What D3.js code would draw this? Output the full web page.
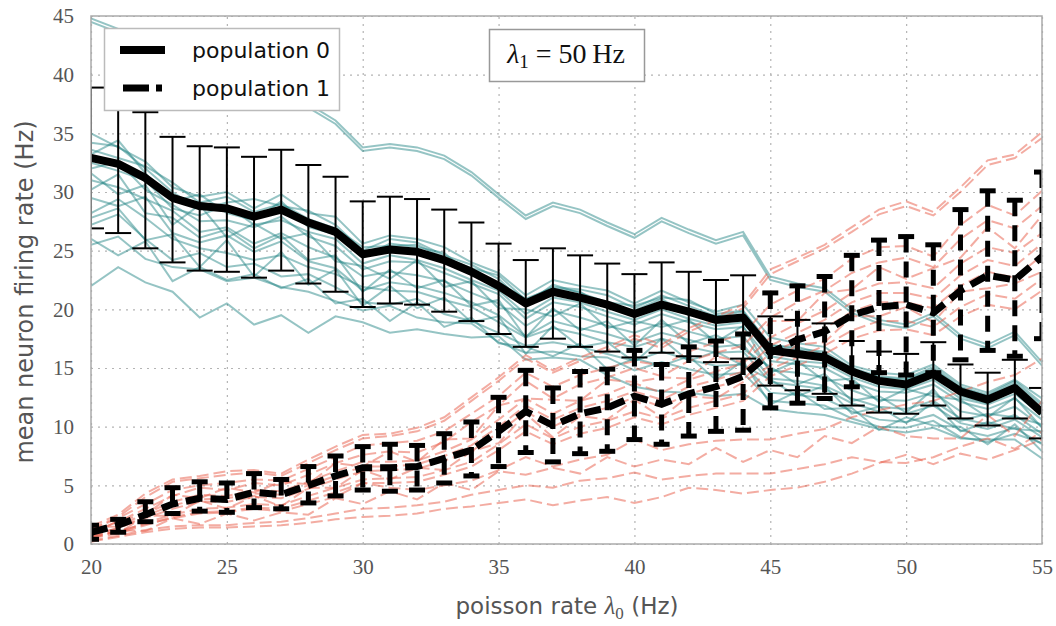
<!DOCTYPE html>
<html>
<head>
<meta charset="utf-8">
<script src="https://cdn.jsdelivr.net/npm/d3@7/dist/d3.min.js"></script>
<style>
  body { margin: 0; background: #fff; }
</style>
</head>
<body>
<div id="chart"></div>
<script>
// poisson rate of population 0 input (Hz)
var rates = [20,21,22,23,24,25,26,27,28,29,30,31,32,33,34,35,36,37,38,39,40,41,42,43,44,45,46,47,48,49,50,51,52,53,54,55];
var xTicks = [20,25,30,35,40,45,50,55];
var yTicks = [0,5,10,15,20,25,30,35,40,45];

// population means and error bar ends
var pop0Mean = [32.9,32.4,31.2,29.5,28.8,28.6,27.9,28.5,27.4,26.6,24.7,25.1,24.9,24.2,23.2,22.0,20.5,21.5,21.0,20.4,19.6,20.4,19.8,19.1,19.3,16.5,16.2,15.9,14.7,13.9,13.6,14.5,13.0,12.3,13.3,11.2];
var pop0Lo   = [26.9,26.5,25.2,24.0,23.3,23.2,22.7,23.3,22.2,21.5,20.2,20.5,20.4,19.8,19.0,17.9,16.8,17.5,16.8,16.4,15.9,16.3,16.0,15.5,15.8,13.5,13.1,12.8,11.8,11.2,11.1,11.8,10.7,10.1,10.7,9.0];
var pop0Hi   = [38.9,38.2,36.8,34.7,33.9,33.8,33.0,33.6,32.3,31.3,29.2,29.6,29.4,28.5,27.4,25.6,24.2,25.2,24.6,23.9,23.0,24.0,23.2,22.5,22.9,19.4,19.1,18.8,17.3,16.4,16.2,17.2,15.3,14.6,15.7,13.3];

var pop1Mean = [1.0,1.6,2.5,3.4,3.9,3.8,4.4,4.2,5.0,5.8,6.5,6.5,6.6,7.3,8.0,9.6,11.3,10.1,11.1,11.6,12.6,11.9,12.8,13.4,14.3,16.3,17.4,18.1,19.5,20.2,20.4,19.7,21.6,22.9,22.5,24.5];
var pop1Lo   = [0.4,1.0,1.9,2.6,2.8,2.7,3.1,3.0,3.5,4.1,4.6,4.5,4.6,5.2,5.8,6.6,7.8,7.0,7.7,7.9,8.9,8.5,9.2,9.6,9.7,11.6,12.0,12.4,13.4,14.6,14.4,14.6,15.7,16.5,16.0,17.5];
var pop1Hi   = [1.6,2.1,3.6,4.8,5.3,5.2,6.0,5.5,6.6,7.5,8.3,8.5,8.4,9.4,10.4,12.5,14.8,13.3,14.7,14.9,16.5,15.3,16.8,17.3,17.9,21.4,22.0,22.8,24.6,25.9,26.2,25.5,28.5,30.1,29.3,31.7];

// single neurons, population 0
var pop0Neurons = [
  [44.8,43.9,42.9,42.0,41.2,40.3,39.5,38.6,37.5,36.1,33.8,34.1,33.8,33.1,31.7,29.8,28.0,29.1,28.5,27.4,26.4,27.8,26.8,25.9,26.6,22.8,22.2,21.8,20.0,19.1,18.7,19.7,17.8,17.0,18.1,15.5],
  [44.5,43.6,42.6,41.7,40.9,40.0,39.2,38.3,37.2,35.8,33.5,33.8,33.5,32.8,31.4,29.5,27.7,28.8,28.2,27.1,26.1,27.5,26.5,25.6,26.3,22.5,21.9,21.5,19.7,18.8,18.4,19.4,17.5,16.7,17.8,15.2],
  [35.0,33.8,32.6,30.4,29.6,30.0,28.6,29.8,28.2,27.9,25.6,26.3,26.0,25.3,24.0,23.1,21.2,22.5,22.0,21.6,20.5,21.6,20.6,19.8,20.4,17.6,17.1,16.8,15.2,14.6,14.4,15.3,13.6,12.9,14.0,12.4],
  [34.2,33.9,32.0,30.0,28.5,29.1,29.4,28.8,28.4,27.2,25.0,26.0,25.7,24.6,23.8,22.6,20.4,22.1,21.4,20.6,20.3,21.0,20.8,19.6,19.9,16.9,16.8,16.2,14.9,14.2,14.0,14.9,13.3,12.6,13.7,11.8],
  [33.2,34.4,31.6,29.2,29.8,28.2,27.6,29.2,27.0,26.4,24.4,25.6,25.3,24.8,22.9,22.3,20.9,21.8,21.5,20.1,19.9,20.9,19.5,19.5,19.0,16.3,16.6,15.7,14.5,13.6,13.9,14.8,12.6,12.0,13.4,11.3],
  [32.5,31.8,31.0,28.6,28.0,28.9,27.2,27.6,26.6,26.0,23.9,24.6,24.2,23.5,22.5,21.6,19.6,21.0,20.6,19.8,19.1,20.0,19.2,18.6,18.9,16.0,15.6,15.4,14.2,13.4,13.2,14.0,12.4,11.9,12.8,11.0],
  [32.0,32.6,30.2,28.9,27.5,27.6,27.0,27.9,26.2,25.4,23.4,24.1,24.0,23.1,22.2,21.3,19.2,20.6,20.2,19.4,18.7,19.6,18.9,18.3,18.5,15.6,15.3,15.0,13.8,13.0,12.9,13.6,12.1,11.5,12.4,10.6],
  [31.6,29.8,30.6,27.2,28.9,26.1,27.3,26.0,26.5,24.1,23.7,22.6,24.2,21.9,22.4,20.1,20.0,19.4,20.5,18.4,19.0,18.5,19.1,17.2,18.6,14.6,15.6,13.9,14.1,12.1,13.2,12.6,12.3,10.8,12.5,9.9],
  [31.0,30.4,29.4,28.4,26.6,27.0,25.6,26.5,25.3,24.4,22.8,23.2,22.9,22.4,21.4,20.5,18.6,19.9,19.3,18.6,18.0,18.8,18.1,17.5,17.7,14.8,14.6,14.2,13.1,12.3,12.2,12.9,11.3,10.9,11.7,10.0],
  [30.2,31.5,28.2,27.8,26.1,26.8,25.2,26.3,24.2,24.6,21.5,23.4,21.8,22.5,20.3,20.8,17.6,20.1,18.2,19.0,16.9,19.1,17.1,17.8,16.6,15.1,13.6,14.5,12.2,12.6,11.2,13.2,10.5,11.1,10.8,10.2],
  [29.5,28.8,29.6,26.5,25.7,26.3,24.9,25.8,24.1,23.5,21.6,22.3,22.0,21.4,20.6,19.5,17.7,19.0,18.4,17.9,17.2,18.0,17.4,16.8,17.0,14.1,13.9,13.5,12.4,11.7,11.5,12.2,10.7,10.2,11.0,9.4],
  [28.2,29.4,27.8,26.0,25.2,24.8,24.2,24.6,23.6,23.0,21.9,21.6,21.5,20.8,20.2,18.9,17.6,18.4,17.9,17.2,16.8,17.5,16.8,16.3,16.4,13.8,13.5,13.2,12.0,11.3,11.1,11.8,10.3,9.8,10.6,9.1],
  [27.8,28.6,25.9,26.4,23.6,25.9,22.8,24.9,22.1,23.4,20.3,22.0,20.1,21.0,18.9,19.4,16.2,18.6,16.8,17.2,15.5,17.5,15.6,16.4,15.2,14.0,12.6,13.5,11.1,11.7,10.3,12.1,9.6,10.4,9.8,9.6],
  [27.2,28.1,26.0,24.2,24.8,23.6,23.9,22.8,23.0,21.9,20.6,20.4,20.9,19.6,19.0,18.0,16.9,17.2,16.8,16.2,15.6,16.4,15.7,15.2,15.3,12.9,12.7,12.4,11.3,10.6,10.4,11.0,9.7,9.2,9.9,8.5],
  [26.0,24.6,25.8,22.4,23.6,22.5,23.0,21.8,22.6,20.5,20.9,19.0,20.6,18.5,19.3,17.1,16.8,16.0,17.1,14.9,15.8,15.2,16.0,14.0,15.6,11.9,13.0,11.5,11.6,9.7,10.8,10.1,10.0,8.5,10.2,7.9],
  [22.0,23.6,22.3,21.5,19.3,20.5,18.7,19.5,18.0,19.4,18.9,18.0,18.3,17.9,17.6,17.7,15.7,15.9,15.7,14.4,13.4,13.0,12.9,12.6,12.8,11.5,11.2,11.0,10.4,9.8,9.5,9.9,9.0,8.9,8.9,7.3],
  [33.6,32.9,32.2,30.8,29.1,29.6,28.3,29.0,27.7,26.9,25.3,25.4,25.5,24.4,23.5,22.9,20.8,21.9,21.7,21.2,20.1,21.2,20.3,19.4,19.8,17.0,16.6,16.4,15.0,14.3,14.1,15.1,13.4,12.7,13.9,12.0],
  [25.5,26.2,24.3,23.6,23.4,22.4,22.7,21.9,21.5,20.7,19.9,20.3,19.3,18.9,18.8,17.2,16.3,16.4,16.0,15.9,14.8,15.5,14.9,14.4,14.6,12.2,12.0,11.8,10.7,10.0,9.9,10.5,9.1,8.7,9.4,8.6]
];

// single neurons, population 1
var pop1Neurons = [
  [1.5,2.5,4.3,5.5,5.8,6.2,6.3,6.0,7.2,8.3,9.3,9.4,9.9,10.8,12.5,14.2,16.1,14.8,15.9,16.8,17.8,17.0,18.4,19.4,20.4,23.4,24.4,25.5,27.0,28.5,29.2,28.3,30.4,32.7,33.2,35.1],
  [1.3,2.3,4.0,5.3,5.6,5.9,6.1,5.8,6.9,8.0,9.0,9.2,9.6,10.5,12.2,13.9,15.8,14.6,15.6,16.5,17.5,16.7,18.1,19.1,20.1,23.0,24.1,25.2,26.6,28.1,28.8,28.0,30.0,32.3,32.9,34.6],
  [1.2,2.2,3.4,4.6,5.0,5.2,5.5,5.4,6.4,7.4,8.4,8.6,8.8,9.6,11.1,12.6,14.6,13.4,14.4,15.0,15.6,15.2,16.4,17.2,17.9,20.4,21.6,22.6,24.3,25.3,25.4,24.5,27.2,28.9,28.0,30.1],
  [1.0,1.9,3.0,4.1,4.8,4.6,5.2,5.0,5.9,6.9,7.6,7.9,7.8,8.7,10.4,11.8,13.9,12.4,13.6,14.2,15.0,14.3,15.6,16.3,16.9,19.3,20.6,21.6,23.1,24.0,24.4,23.6,26.0,27.6,26.9,28.8],
  [0.8,2.0,2.5,4.2,3.9,4.8,4.4,5.3,5.1,6.9,6.6,7.9,7.0,8.9,9.0,11.8,12.4,12.3,12.2,14.0,13.8,14.2,14.1,16.0,15.5,19.0,19.0,21.4,21.7,23.6,22.6,23.5,24.4,27.0,25.2,28.0],
  [1.4,1.5,2.6,3.6,4.2,4.1,4.6,4.5,5.3,6.2,7.0,7.0,7.1,7.9,8.9,10.6,12.4,11.1,12.2,12.8,13.7,12.9,14.0,14.7,15.4,17.6,18.8,19.9,21.4,22.2,22.3,21.8,23.9,25.3,24.8,26.5],
  [0.9,1.3,2.4,3.3,3.8,3.9,4.3,4.2,5.0,5.8,6.6,6.6,6.8,7.5,8.4,10.0,11.8,10.6,11.6,12.2,13.0,12.3,13.4,14.0,14.7,16.9,18.0,19.1,20.6,21.4,21.4,20.9,22.9,24.2,23.7,25.6],
  [0.6,1.4,2.2,3.0,3.6,3.6,4.0,3.9,4.7,5.5,6.2,6.3,6.4,7.1,7.9,9.5,11.3,10.0,11.1,11.6,12.5,11.7,12.8,13.4,14.0,16.3,17.3,18.4,19.8,20.6,20.6,20.1,22.0,23.2,22.7,24.6],
  [1.1,0.9,2.4,2.4,3.7,3.0,4.1,3.2,4.8,4.8,6.3,5.5,6.5,6.3,7.9,8.6,11.1,9.1,10.9,10.6,12.3,10.8,12.6,12.4,13.8,15.2,17.0,17.2,19.4,19.4,20.2,18.9,21.5,21.8,22.2,23.2],
  [0.7,1.0,1.8,2.5,3.0,3.1,3.4,3.3,4.1,4.8,5.5,5.6,5.7,6.3,7.0,8.5,10.2,9.0,10.0,10.5,11.3,10.7,11.6,12.2,12.8,14.9,15.9,16.9,18.2,19.0,19.0,18.5,20.2,21.3,20.9,22.6],
  [0.5,0.9,1.6,2.3,2.7,2.8,3.1,3.0,3.7,4.4,5.2,5.2,5.3,5.9,6.6,8.0,9.6,8.5,9.4,9.9,10.8,10.2,11.0,11.6,12.2,14.3,15.2,16.2,17.5,18.2,18.3,17.8,19.4,20.4,20.0,21.6],
  [0.6,1.1,1.7,2.2,2.6,2.7,3.0,2.8,3.4,4.0,5.2,4.8,4.6,5.0,5.4,6.3,7.4,6.6,7.2,7.6,8.9,8.0,8.5,8.8,8.9,8.9,9.4,9.8,10.8,11.4,11.9,12.2,13.0,13.8,14.4,15.8],
  [0.4,1.2,1.1,2.2,1.7,2.6,2.0,2.7,2.5,3.9,3.4,4.5,3.8,5.2,4.6,6.2,5.9,6.5,6.0,7.4,6.6,7.2,6.8,8.2,7.0,8.0,7.4,9.2,8.6,10.0,9.2,9.0,9.0,11.0,9.2,12.2],
  [0.3,0.7,1.2,1.5,1.6,1.6,1.8,1.9,2.2,2.6,3.0,3.1,3.3,3.6,4.2,4.6,5.0,4.8,5.4,5.6,6.1,5.5,5.8,6.0,6.0,6.0,6.4,6.8,7.4,7.0,6.9,7.4,8.3,9.0,8.1,9.6],
  [0.2,0.6,1.0,1.3,1.4,1.4,1.5,1.6,1.8,2.1,2.3,2.4,2.6,3.0,3.2,3.5,3.8,3.3,3.7,4.0,3.5,4.0,4.8,4.6,4.3,4.6,4.8,5.3,6.0,6.9,7.6,6.8,7.7,7.2,8.0,8.9]
];

var W = 1056, H = 626;
var pL = 91, pR = 1042, pT = 16, pB = 544;

var svg = d3.select("#chart")
    .append("svg")
    .attr("width", W)
    .attr("height", H);

var x = d3.scaleLinear().domain([20, 55]).range([pL, pR]);
var y = d3.scaleLinear().domain([0, 45]).range([pB, pT]);

svg.append("defs").append("clipPath")
    .attr("id", "plotclip")
  .append("rect")
    .attr("x", pL).attr("y", pT)
    .attr("width", pR - pL).attr("height", pB - pT);

// dotted grid
var gridX = svg.append("g")
    .attr("transform", "translate(0," + pB + ")")
    .call(d3.axisBottom(x).tickValues(xTicks).tickSize(-(pB - pT)).tickFormat(""));
var gridY = svg.append("g")
    .attr("transform", "translate(" + pL + ",0)")
    .call(d3.axisLeft(y).tickValues(yTicks).tickSize(-(pR - pL)).tickFormat(""));
[gridX, gridY].forEach(function(g) {
    g.select(".domain").remove();
    g.selectAll(".tick line")
        .attr("stroke", "#b4b4b4")
        .attr("stroke-width", 1.2)
        .attr("stroke-dasharray", "2,5");
});

// tick labels
var axX = svg.append("g")
    .attr("transform", "translate(0," + pB + ")")
    .call(d3.axisBottom(x).tickValues(xTicks).tickSize(0).tickPadding(15));
var axY = svg.append("g")
    .attr("transform", "translate(" + pL + ",0)")
    .call(d3.axisLeft(y).tickValues(yTicks).tickSize(0).tickPadding(17));
[axX, axY].forEach(function(g) {
    g.select(".domain").remove();
    g.selectAll("text")
        .attr("fill", "#555")
        .style("font-family", "'Liberation Serif', 'DejaVu Serif', serif")
        .style("font-size", "21px");
});

var plot = svg.append("g").attr("clip-path", "url(#plotclip)");

var line = d3.line()
    .x(function(d, i) { return x(rates[i]); })
    .y(function(d) { return y(d); });

// single neuron traces
plot.selectAll(".n0")
    .data(pop0Neurons)
    .enter()
        .append("path")
        .attr("class", "n0")
        .attr("d", line)
        .attr("fill", "none")
        .attr("stroke", "#218383")
        .attr("stroke-opacity", 0.48)
        .attr("stroke-width", 2);

plot.selectAll(".n1")
    .data(pop1Neurons)
    .enter()
        .append("path")
        .attr("class", "n1")
        .attr("d", line)
        .attr("fill", "none")
        .attr("stroke", "#e8604c")
        .attr("stroke-opacity", 0.52)
        .attr("stroke-width", 2)
        .attr("stroke-dasharray", "12,5");

// population 0 error bars + mean
var eb0 = plot.selectAll(".eb0")
    .data(rates)
    .enter()
        .append("g")
        .attr("class", "eb0");
eb0.append("line")
    .attr("x1", function(d) { return x(d); })
    .attr("x2", function(d) { return x(d); })
    .attr("y1", function(d, i) { return y(pop0Lo[i]); })
    .attr("y2", function(d, i) { return y(pop0Hi[i]); })
    .attr("stroke", "#000").attr("stroke-width", 2);
eb0.append("line")
    .attr("x1", function(d) { return x(d) - 13; })
    .attr("x2", function(d) { return x(d) + 13; })
    .attr("y1", function(d, i) { return y(pop0Lo[i]); })
    .attr("y2", function(d, i) { return y(pop0Lo[i]); })
    .attr("stroke", "#000").attr("stroke-width", 2);
eb0.append("line")
    .attr("x1", function(d) { return x(d) - 13; })
    .attr("x2", function(d) { return x(d) + 13; })
    .attr("y1", function(d, i) { return y(pop0Hi[i]); })
    .attr("y2", function(d, i) { return y(pop0Hi[i]); })
    .attr("stroke", "#000").attr("stroke-width", 2);

plot.append("path")
    .datum(pop0Mean)
    .attr("d", line)
    .attr("fill", "none")
    .attr("stroke", "#000")
    .attr("stroke-width", 8)
    .attr("stroke-linejoin", "round");

// population 1 error bars + mean
var eb1 = plot.selectAll(".eb1")
    .data(rates)
    .enter()
        .append("g")
        .attr("class", "eb1");
eb1.append("line")
    .attr("x1", function(d) { return x(d); })
    .attr("x2", function(d) { return x(d); })
    .attr("y1", function(d, i) { return y(pop1Hi[i]); })
    .attr("y2", function(d, i) { return y(pop1Lo[i]); })
    .attr("stroke", "#000").attr("stroke-width", 5)
    .attr("stroke-dasharray", "16,9");
eb1.append("line")
    .attr("x1", function(d) { return x(d) - 8; })
    .attr("x2", function(d) { return x(d) + 8; })
    .attr("y1", function(d, i) { return y(pop1Lo[i]); })
    .attr("y2", function(d, i) { return y(pop1Lo[i]); })
    .attr("stroke", "#000").attr("stroke-width", 5);
eb1.append("line")
    .attr("x1", function(d) { return x(d) - 8; })
    .attr("x2", function(d) { return x(d) + 8; })
    .attr("y1", function(d, i) { return y(pop1Hi[i]); })
    .attr("y2", function(d, i) { return y(pop1Hi[i]); })
    .attr("stroke", "#000").attr("stroke-width", 5);

plot.append("path")
    .datum(pop1Mean)
    .attr("d", line)
    .attr("fill", "none")
    .attr("stroke", "#000")
    .attr("stroke-width", 7)
    .attr("stroke-dasharray", "17,8");

// frame
svg.append("rect")
    .attr("x", pL).attr("y", pT)
    .attr("width", pR - pL).attr("height", pB - pT)
    .attr("fill", "none")
    .attr("stroke", "#aaa")
    .attr("stroke-width", 1.5);

// legend
var legend = svg.append("g");
legend.append("rect")
    .attr("x", 104.5).attr("y", 28.5)
    .attr("width", 235).attr("height", 82)
    .attr("fill", "#fff")
    .attr("stroke", "#bbb")
    .attr("stroke-width", 1.5);
legend.append("line")
    .attr("x1", 120).attr("x2", 165).attr("y1", 50).attr("y2", 50)
    .attr("stroke", "#000").attr("stroke-width", 8);
legend.append("line")
    .attr("x1", 123).attr("x2", 162).attr("y1", 88).attr("y2", 88)
    .attr("stroke", "#000").attr("stroke-width", 7)
    .attr("stroke-dasharray", "26,7");
legend.selectAll(".lt")
    .data(["population 0", "population 1"])
    .enter()
        .append("text")
        .attr("class", "lt")
        .attr("x", 192)
        .attr("y", function(d, i) { return i == 0 ? 58 : 96; })
        .style("font-family", "'DejaVu Sans', sans-serif")
        .style("font-size", "22px")
        .attr("fill", "#111")
        .text(function(d) { return d; });

// lambda_1 annotation
var note = svg.append("g");
note.append("rect")
    .attr("x", 489.5).attr("y", 29.5)
    .attr("width", 155).attr("height", 52)
    .attr("fill", "#fff")
    .attr("stroke", "#999")
    .attr("stroke-width", 1.5);
var nt = note.append("text")
    .attr("x", 566).attr("y", 63)
    .attr("text-anchor", "middle")
    .style("font-family", "'Liberation Serif', 'DejaVu Serif', serif")
    .style("font-size", "28px")
    .attr("fill", "#111");
nt.append("tspan").style("font-style", "italic").text("λ");
nt.append("tspan").attr("dy", 5).style("font-size", "19px").text("1");
nt.append("tspan").attr("dy", -5).text(" = 50\u2009Hz");

// axis labels
var xl = svg.append("text")
    .attr("x", 567).attr("y", 614)
    .attr("text-anchor", "middle")
    .style("font-family", "'DejaVu Sans', sans-serif")
    .style("font-size", "23px")
    .attr("fill", "#555");
xl.append("tspan").text("poisson rate ");
xl.append("tspan")
    .style("font-family", "'Liberation Serif', serif")
    .style("font-style", "italic")
    .style("font-size", "25px")
    .text("λ");
xl.append("tspan")
    .attr("dy", 5)
    .style("font-family", "'Liberation Serif', serif")
    .style("font-size", "17px")
    .text("0");
xl.append("tspan").attr("dy", -5).text(" (Hz)");

svg.append("text")
    .attr("transform", "translate(33,292) rotate(-90)")
    .attr("text-anchor", "middle")
    .style("font-family", "'DejaVu Sans', sans-serif")
    .style("font-size", "24px")
    .attr("fill", "#555")
    .text("mean neuron firing rate (Hz)");
</script>
</body>
</html>
